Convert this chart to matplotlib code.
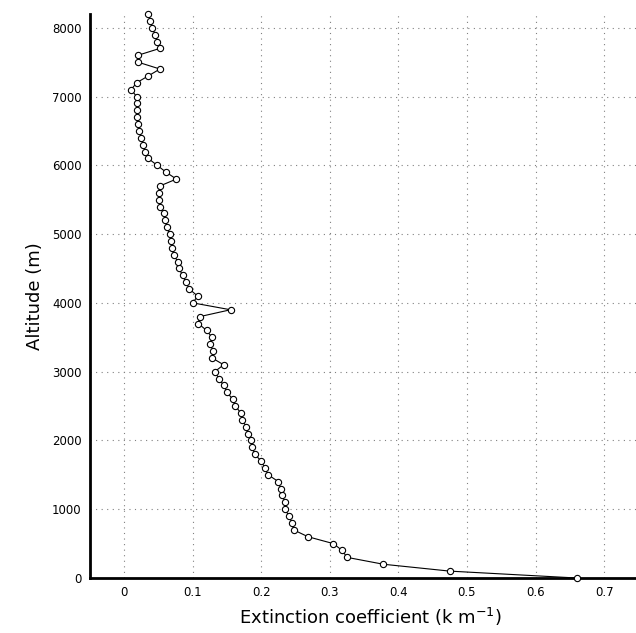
import matplotlib.pyplot as plt
import numpy as np

altitude = list(range(0, 8300, 100))
extinction = [
    0.660, 0.475, 0.378, 0.325, 0.318, 0.305, 0.268, 0.247, 0.245, 0.240,
    0.235, 0.235, 0.230, 0.228, 0.225, 0.210, 0.205, 0.200, 0.190, 0.187,
    0.185, 0.180, 0.178, 0.172, 0.170, 0.162, 0.158, 0.150, 0.145, 0.138,
    0.132, 0.145, 0.128, 0.130, 0.125, 0.128, 0.120, 0.108, 0.110, 0.155,
    0.100, 0.107, 0.095, 0.090, 0.085, 0.080, 0.078, 0.072, 0.070, 0.068,
    0.066, 0.062, 0.060, 0.058, 0.052, 0.050, 0.050, 0.052, 0.076, 0.061,
    0.048, 0.035, 0.030, 0.028, 0.025, 0.022, 0.020, 0.018, 0.018, 0.018,
    0.018, 0.010, 0.018, 0.035, 0.052, 0.020, 0.020, 0.052, 0.048, 0.045,
    0.041, 0.038, 0.035,
]

fig = plt.figure(figsize=(6.36, 6.33), dpi=100)
ax = fig.add_axes([90 / 636, 55 / 633, 560 / 636, 564 / 633])

ax.plot(extinction, altitude, '-', color='black', linewidth=0.8,
        marker='o', markersize=4.5, markerfacecolor='white',
        markeredgecolor='black', markeredgewidth=0.8, clip_on=False, zorder=3)

ax.set_xlim(-0.05, 0.767)
ax.set_ylim(0, 8200)
ax.set_xticks(np.arange(0, 0.71, 0.1))
ax.set_xticklabels(['0', '0.1', '0.2', '0.3', '0.4', '0.5', '0.6', '0.7'])
ax.set_yticks(range(0, 8001, 1000))
ax.tick_params(labelsize=8.5, length=0, pad=6)
ax.grid(True, linestyle=(0, (1, 4)), color='gray', linewidth=0.8)

ax.spines['left'].set_linewidth(2)
ax.spines['bottom'].set_linewidth(2)
ax.spines['top'].set_visible(False)
ax.spines['right'].set_visible(False)

ax.set_xlabel('Extinction coefficient (k m$^{-1}$)', fontsize=13, labelpad=5)
ax.set_ylabel('Altitude (m)', fontsize=13, labelpad=6)

plt.savefig('out.png', dpi=100)
